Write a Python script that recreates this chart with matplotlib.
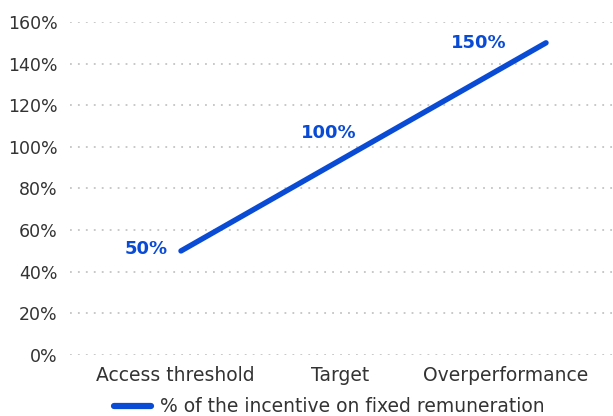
import matplotlib
matplotlib.use("Agg")
import matplotlib.pyplot as plt
from matplotlib.lines import Line2D

categories = ["Access threshold", "Target", "Overperformance"]
values = [50, 100, 150]
point_labels = ["50%", "100%", "150%"]
yticks = [0, 20, 40, 60, 80, 100, 120, 140, 160]
series_name = "% of the incentive on fixed remuneration"

blue = "#0A4BD6"
W, H = 613, 416
fig = plt.figure(figsize=(W / 100, H / 100), dpi=100)
left, right, top, bottom = 70, 613, 22, 355
ax = fig.add_axes([left / W, 1 - bottom / H, (right - left) / W, (bottom - top) / H])

x = list(range(len(categories)))
ax.plot(x, values, color=blue, lw=3.9, solid_capstyle="round", zorder=3)
label_offsets = [(-35, 2), (-35, 14), (-67, 0)]
for xi, v, t, off in zip(x, values, point_labels, label_offsets):
    ax.annotate(t, (xi, v), xytext=off, textcoords="offset pixels",
                ha="center", va="center", color=blue, fontsize=13, fontweight="bold")

ax.set_xlim(-0.608, 2.367)
ax.set_ylim(0, 160)
ax.set_yticks(yticks)
ax.set_yticklabels([f"{v}%" for v in yticks])
# category labels sit slightly left of their data points in the reference
ax.set_xticks([-0.033, 0.871, 1.78])
ax.set_xticklabels(categories)
ax.tick_params(axis="both", length=0, labelcolor="#333333")
ax.tick_params(axis="y", pad=9, labelsize=12.5)
ax.tick_params(axis="x", pad=8, labelsize=13.5)
ax.grid(axis="y", linestyle=(0, (1, 3.4)), color="#c4c4c4", lw=1.3)
ax.grid(axis="x", visible=False)
for s in ax.spines.values():
    s.set_visible(False)

handle = Line2D([], [], color=blue, lw=4.5, solid_capstyle="round")
fig.legend([handle], [series_name], loc="center", bbox_to_anchor=(329 / W, 1 - 407 / H),
           frameon=False, fontsize=13.5, handlelength=2.0, handletextpad=0.45,
           labelcolor="#333333")

fig.savefig("out.png", dpi=100)
